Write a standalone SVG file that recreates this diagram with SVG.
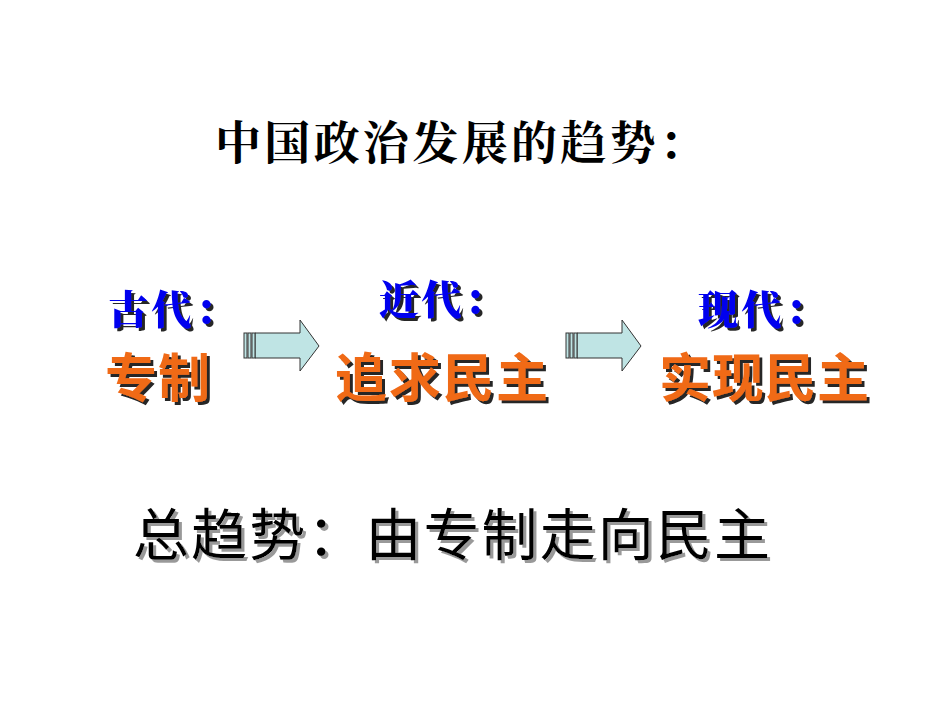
<svg xmlns="http://www.w3.org/2000/svg" width="950" height="713" viewBox="0 0 950 713">
<defs>
<filter id="sd" x="-10%" y="-20%" width="130%" height="150%"><feDropShadow dx="3" dy="3" stdDeviation="0" flood-color="#000" flood-opacity="0.85"/></filter>
<filter id="sg" x="-10%" y="-20%" width="130%" height="150%"><feDropShadow dx="3" dy="3" stdDeviation="0" flood-color="#999"/></filter>
</defs>
<style>
.t{font-family:"Noto Sans CJK SC",sans-serif}
.era{font-family:"Noto Serif CJK SC","Noto Sans CJK SC",serif;font-weight:900;font-size:40px;fill:#0000ee;filter:url(#sd)}
.or{font-family:"Noto Sans CJK SC",sans-serif;font-weight:bold;font-size:52px;fill:#f06a18;filter:url(#sd)}
.arr{fill:#bfe4e4;stroke:#333;stroke-width:1}
</style>
<rect width="950" height="713" fill="#fff"/>
<g id="title"><text x="215" y="159" font-family="Noto Serif CJK SC,Noto Sans CJK SC,serif" font-weight="bold" font-size="46" fill="#000" textLength="490">中国政治发展的趋势：</text></g>
<g id="n1">
<text class="era" x="108" y="324" textLength="127">古代：</text>
<text class="or" x="105" y="397" textLength="105">专制</text>
</g>
<g id="n2">
<text class="era" x="379" y="314" textLength="125">近代：</text>
<text class="or" x="335" y="397" textLength="213">追求民主</text>
</g>
<g id="n3">
<text class="era" x="698" y="324" textLength="127">现代：</text>
<text class="or" x="659" y="397" textLength="210">实现民主</text>
</g>
<g id="connectors">
<g class="arr">
<path d="M255 333H300V320L319 346L300 371V358H255Z"/>
<rect x="244" y="333" width="3" height="25"/><rect x="248" y="333" width="3" height="25"/><rect x="252" y="333" width="3" height="25"/>
<path d="M577 333H622V320L641 346L622 371V358H577Z"/>
<rect x="566" y="333" width="3" height="25"/><rect x="570" y="333" width="3" height="25"/><rect x="574" y="333" width="3" height="25"/>
</g>
</g>
<g id="summary">
<text class="t" x="133" y="555" font-size="56" fill="#000" textLength="637" filter="url(#sg)">总趋势：由专制走向民主</text>
</g>
</svg>
